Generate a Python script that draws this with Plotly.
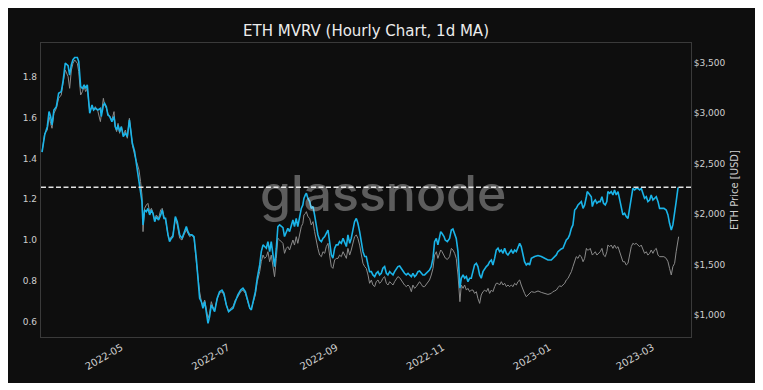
import pandas as pd
import plotly.graph_objects as go

START = "2022-03-16"

days_since_start = [
    0.6, 2.1, 3.6, 4.6, 5.5, 6.3, 7.4, 8.8, 10.1, 11.6,
    12.6, 13.9, 15.5, 16.4, 17.4, 18.3, 19.3, 20.8, 21.6, 22.7,
    23.7, 24.7, 25.6, 26.5, 27.9, 29.2, 30.1, 31.1, 32.6, 34.0,
    34.5, 35.7, 36.4, 37.4, 38.3, 39.3, 40.6, 41.8, 42.5, 43.3,
    44.1, 45.0, 46.0, 47.1, 48.3, 49.4, 50.6, 51.3, 52.3, 53.6,
    55.1, 56.1, 57.0, 57.8, 58.4, 59.3, 60.3, 61.2, 62.2, 63.2,
    64.1, 65.1, 66.0, 67.3, 68.5, 69.4, 70.4, 71.3, 72.7, 73.6,
    74.6, 75.5,
    76.9, 78.0, 79.4, 80.7, 81.8, 83.2, 84.1, 85.1, 86.4, 87.6,
    88.9, 89.9, 90.8, 91.8, 92.7, 93.7, 94.6, 95.6, 96.5, 97.5,
    98.4, 99.4, 100.9, 102.2, 103.6, 104.7, 106.1, 107.4, 108.6, 109.9,
    111.2, 112.7, 114.3, 115.6, 117.0, 118.1, 119.5, 120.4, 121.6, 122.7,
    123.8, 125.2, 126.1, 127.1, 128.0, 129.0, 129.9, 130.9, 131.8, 132.8,
    133.7, 134.7, 135.6, 136.6, 137.5, 138.5, 139.4, 140.4, 141.3, 142.3,
    143.2, 144.2, 145.1, 146.1, 147.0, 148.0, 149.0, 149.9,
    150.5, 151.3, 151.9, 152.8, 153.8, 154.7, 155.7, 156.6, 157.6, 158.5,
    159.5, 160.5, 161.4, 162.4, 163.3, 164.3, 165.2, 166.2, 167.1, 168.1,
    169.0, 170.0, 170.9, 171.9, 172.9, 173.8, 174.8, 175.7, 176.7, 177.6,
    178.6, 179.5, 180.5, 181.4, 182.4, 183.3, 184.3, 185.3, 186.2, 187.2,
    188.1, 189.1, 190.0, 191.0, 191.9, 192.9, 193.8, 194.8, 195.7, 196.7,
    197.7, 198.6, 199.6, 200.5, 201.5, 202.4, 203.4, 204.3, 205.3, 206.2,
    207.2, 208.1, 209.1, 210.1, 211.0, 212.0, 212.9, 213.9, 214.8, 215.8,
    216.7, 217.7, 218.6, 219.6, 220.5, 221.5, 222.4, 223.4,
    224.4, 225.3, 226.3, 227.2, 228.2, 228.8, 229.5, 230.7, 231.4, 232.6,
    233.9, 234.9, 235.8, 236.8, 237.7, 238.7, 239.3, 239.8, 240.6, 241.6,
    242.5, 243.5, 244.4, 245.4, 246.3, 247.3, 248.2, 249.2, 250.1, 251.1,
    252.0, 253.0, 254.0, 254.9, 255.9, 256.8, 257.8, 258.7, 259.7, 260.6,
    261.6, 262.5, 263.5, 264.5, 265.4, 266.4, 267.3, 268.3, 269.2, 270.2,
    271.1, 272.1, 273.0, 274.0, 274.9, 275.9, 276.8, 277.8, 278.8, 279.7,
    280.7, 282.6, 284.5, 286.4, 288.3, 290.2, 292.1, 293.0, 294.0, 295.0,
    295.9, 296.9, 297.8,
    298.8, 299.8, 300.7, 301.7, 302.6, 303.6, 304.5, 305.5, 306.4, 307.4,
    308.3, 309.3, 310.3, 311.2, 312.2, 312.7, 313.5, 314.4, 315.0, 315.6,
    316.5, 317.3, 318.2, 319.2, 320.1, 321.1, 322.0, 323.0, 323.9, 324.5,
    325.5, 326.4, 327.4, 328.3, 329.3, 330.3, 331.2, 332.2, 333.1, 334.1,
    335.0, 336.0, 336.9, 337.9, 338.8, 339.8, 340.7, 341.7, 342.7, 343.6,
    344.6, 345.5, 346.5, 347.4, 348.4, 349.3, 350.3, 351.2, 352.2, 353.2,
    354.1, 355.1, 356.6, 357.9, 358.9, 359.8, 360.8, 361.7, 362.7, 363.6,
    364.6, 365.0,
]

mvrv = [
    1.430, 1.514, 1.555, 1.629, 1.605, 1.564, 1.637, 1.653, 1.719, 1.727,
    1.776, 1.866, 1.854, 1.808, 1.859, 1.883, 1.894, 1.894, 1.875, 1.751,
    1.743, 1.760, 1.743, 1.760, 1.621, 1.661, 1.637, 1.645, 1.637, 1.645,
    1.605, 1.661, 1.670, 1.653, 1.612, 1.605, 1.580, 1.605, 1.555, 1.539,
    1.564, 1.531, 1.555, 1.506, 1.523, 1.506, 1.588, 1.547, 1.474, 1.433,
    1.351, 1.302, 1.253, 1.188, 1.074, 1.147, 1.139, 1.155, 1.123, 1.147,
    1.131, 1.090, 1.114, 1.098, 1.123, 1.147, 1.106, 1.106, 1.025, 0.992,
    1.008, 1.017,
    1.115, 1.090, 1.025, 1.008, 1.033, 1.066, 1.041, 1.025, 1.025, 1.017,
    0.911, 0.813, 0.715, 0.698, 0.666, 0.698, 0.649, 0.592, 0.625, 0.682,
    0.666, 0.649, 0.715, 0.747, 0.755, 0.739, 0.682, 0.649, 0.658, 0.666,
    0.698, 0.731, 0.755, 0.764, 0.747, 0.715, 0.666, 0.658, 0.698, 0.747,
    0.813, 0.878, 0.943, 0.976, 0.968, 0.960, 0.992, 0.943, 0.992, 0.911,
    0.870, 0.960, 1.066, 1.074, 1.066, 1.061, 1.017, 1.041, 1.057, 1.041,
    1.066, 1.098, 1.066, 1.106, 1.066, 1.115, 1.155, 1.172,
    1.204, 1.221, 1.229, 1.204, 1.188, 1.155, 1.164, 1.123, 1.057, 1.025,
    1.000, 0.992, 1.008, 1.017, 1.033, 1.049, 0.992, 0.927, 0.911, 0.960,
    0.976, 0.976, 0.992, 0.984, 1.008, 0.992, 0.968, 1.025, 0.984, 1.008,
    1.057, 1.090, 1.106, 1.082, 1.041, 0.984, 0.943, 0.919, 0.919, 0.878,
    0.845, 0.845, 0.829, 0.821, 0.837, 0.845, 0.829, 0.837, 0.862, 0.870,
    0.837, 0.829, 0.845, 0.837, 0.829, 0.845, 0.858, 0.870, 0.873, 0.862,
    0.845, 0.837, 0.829, 0.837, 0.829, 0.821, 0.837, 0.821, 0.829, 0.845,
    0.848, 0.837, 0.829, 0.829, 0.837, 0.845, 0.853, 0.870,
    0.911, 0.992, 1.008, 0.976, 1.008, 1.041, 1.033, 1.017, 1.000, 0.992,
    1.008, 1.049, 1.054, 1.033, 1.008, 0.943, 0.845, 0.764, 0.813, 0.829,
    0.813, 0.821, 0.796, 0.813, 0.813, 0.845, 0.878, 0.886, 0.870, 0.829,
    0.813, 0.845, 0.862, 0.870, 0.878, 0.894, 0.902, 0.878, 0.911, 0.951,
    0.960, 0.943, 0.951, 0.935, 0.960, 0.935, 0.927, 0.943, 0.951, 0.935,
    0.951, 0.943, 0.968, 0.984, 0.968, 0.935, 0.894, 0.878, 0.886, 0.878,
    0.911, 0.919, 0.924, 0.919, 0.911, 0.902, 0.902, 0.911, 0.919, 0.927,
    0.943, 0.951, 0.956,
    0.960, 0.984, 1.000, 1.008, 1.025, 1.057, 1.074, 1.147, 1.155, 1.172,
    1.180, 1.188, 1.155, 1.172, 1.212, 1.237, 1.229, 1.221, 1.212, 1.164,
    1.188, 1.196, 1.180, 1.188, 1.188, 1.212, 1.180, 1.172, 1.188, 1.237,
    1.229, 1.237, 1.221, 1.245, 1.221, 1.237, 1.204, 1.155, 1.123, 1.131,
    1.115, 1.106, 1.155, 1.212, 1.253, 1.245, 1.253, 1.253, 1.245, 1.253,
    1.221, 1.204, 1.212, 1.188, 1.196, 1.221, 1.196, 1.204, 1.212, 1.188,
    1.155, 1.155, 1.155, 1.147, 1.123, 1.082, 1.049, 1.074, 1.123, 1.188,
    1.253, 1.258,
]

eth_price_usd = [
    2618, 2800, 2833, 2965, 2899, 2850, 2998, 3048, 3147, 3180,
    3296, 3428, 3362, 3246, 3428, 3494, 3527, 3494, 3411, 3180,
    3213, 3262, 3213, 3246, 3015, 3064, 3031, 3064, 3015, 2916,
    2982, 3147, 3081, 3050, 2998, 2965, 2932, 3015, 2866, 2817,
    2899, 2800, 2866, 2784, 2833, 2751, 2949, 2850, 2684, 2585,
    2486, 2437, 2321, 2189, 1826, 2057, 2090, 2106, 2024, 2057,
    2007, 1941, 1991, 1958, 2040, 2057, 1974, 1941, 1793, 1743,
    1776, 1793,
    1958, 1892, 1760, 1743, 1793, 1842, 1809, 1776, 1793, 1760,
    1528, 1363, 1231, 1132, 1099, 1148, 1049, 967, 1016, 1132,
    1082, 1049, 1165, 1214, 1231, 1198, 1099, 1033, 1066, 1082,
    1148, 1181, 1231, 1247, 1214, 1148, 1066, 1066, 1132, 1198,
    1330, 1429, 1528, 1594, 1561, 1578, 1627, 1528, 1594, 1462,
    1380, 1561, 1760, 1743, 1726, 1710, 1611, 1660, 1677, 1644,
    1693, 1743, 1693, 1776, 1710, 1793, 1875, 1908,
    1991, 2005, 2024, 1974, 1958, 1892, 1925, 1826, 1727, 1660,
    1594, 1578, 1627, 1611, 1677, 1710, 1594, 1479, 1462, 1545,
    1561, 1561, 1594, 1578, 1627, 1594, 1561, 1660, 1594, 1644,
    1727, 1776, 1793, 1760, 1693, 1594, 1512, 1479, 1462, 1396,
    1314, 1347, 1297, 1281, 1330, 1347, 1314, 1330, 1363, 1380,
    1314, 1297, 1330, 1314, 1297, 1330, 1363, 1380, 1370, 1347,
    1314, 1297, 1281, 1297, 1281, 1231, 1297, 1264, 1281, 1314,
    1330, 1304, 1281, 1281, 1304, 1323, 1347, 1396,
    1462, 1594, 1627, 1561, 1627, 1644, 1630, 1590, 1565, 1550,
    1578, 1660, 1644, 1611, 1561, 1396, 1165, 1132, 1297, 1264,
    1297, 1247, 1264, 1231, 1247, 1247, 1214, 1231, 1165, 1115,
    1198, 1231, 1247, 1231, 1264, 1214, 1247, 1231, 1281, 1314,
    1314, 1297, 1330, 1297, 1314, 1281, 1297, 1281, 1297, 1281,
    1314, 1297, 1330, 1347, 1297, 1247, 1214, 1181, 1198, 1214,
    1231, 1224, 1238, 1224, 1214, 1204, 1214, 1231, 1238, 1247,
    1270, 1290, 1281,
    1297, 1314, 1347, 1363, 1396, 1429, 1479, 1545, 1578, 1561,
    1594, 1578, 1528, 1561, 1660, 1644, 1644, 1660, 1627, 1594,
    1611, 1627, 1594, 1611, 1627, 1660, 1594, 1578, 1627, 1693,
    1677, 1693, 1660, 1693, 1660, 1677, 1627, 1561, 1528, 1528,
    1495, 1512, 1594, 1677, 1710, 1700, 1710, 1693, 1677, 1693,
    1644, 1611, 1627, 1594, 1611, 1644, 1611, 1644, 1660, 1594,
    1578, 1578, 1578, 1561, 1528, 1462, 1396, 1479, 1512, 1627,
    1760, 1776,
]

CURRENT_MVRV = 1.258

x_tick_dates = ["2022-05-01", "2022-07-01", "2022-09-01", "2022-11-01", "2023-01-01", "2023-03-01"]
x_tick_labels = ["2022-05", "2022-07", "2022-09", "2022-11", "2023-01", "2023-03"]
mvrv_ticks = [0.6, 0.8, 1.0, 1.2, 1.4, 1.6, 1.8]
price_ticks = [1000, 1500, 2000, 2500, 3000, 3500]
price_tick_labels = ["$1,000", "$1,500", "$2,000", "$2,500", "$3,000", "$3,500"]

TITLE = "ETH MVRV (Hourly Chart, 1d MA)"
PRICE_AXIS_TITLE = "ETH Price [USD]"
WATERMARK = "glassnode"

BG = "#0e0e0e"
TICK_COLOR = "#cfcfcf"
FONT = "DejaVu Sans"

W, H = 750, 375

dates = pd.Timestamp(START) + pd.to_timedelta(days_since_start, unit="D")

fig = go.Figure()
fig.add_trace(go.Scatter(
    x=dates, y=eth_price_usd, yaxis="y", mode="lines",
    line=dict(color="#8a8a8a", width=1), name="ETH Price", hoverinfo="skip",
))
fig.add_trace(go.Scatter(
    x=dates, y=mvrv, yaxis="y2", mode="lines",
    line=dict(color="#1ab4e8", width=1.6), name="MVRV", hoverinfo="skip",
))

fig.update_layout(
    width=W, height=H, autosize=False,
    margin=dict(l=33, r=67, t=35, b=46, pad=0),
    paper_bgcolor=BG, plot_bgcolor=BG,
    showlegend=False,
    font=dict(family=FONT, color=TICK_COLOR, size=9),
    title=dict(text=TITLE, x=0.5, xref="paper", xanchor="center",
               y=1 - 23 / H, yref="container", yanchor="middle",
               font=dict(family=FONT, size=15, color="#ececec")),
    xaxis=dict(
        range=[START, "2023-03-23 02:00"], tickvals=x_tick_dates, ticktext=x_tick_labels,
        tickangle=-30, showgrid=False, zeroline=False, showline=True, mirror=True,
        linecolor="#3a3a3a", linewidth=1, ticks="", tickfont=dict(size=10, color=TICK_COLOR),
    ),
    yaxis=dict(
        side="right", range=[782, 3695], tickvals=price_ticks, ticktext=price_tick_labels,
        showgrid=False, zeroline=False, showline=True, mirror=True,
        linecolor="#3a3a3a", linewidth=1, ticks="", tickfont=dict(size=9, color=TICK_COLOR),
        title=dict(text=PRICE_AXIS_TITLE, font=dict(size=10, color=TICK_COLOR), standoff=6),
    ),
    yaxis2=dict(
        overlaying="y", side="left", range=[0.525, 1.965], tickvals=mvrv_ticks,
        tickformat=".1f", showgrid=False, zeroline=False, showline=False, ticks="",
        ticklabelstandoff=3, tickfont=dict(size=9, color=TICK_COLOR),
    ),
)

# current MVRV reference line
fig.add_shape(type="line", xref="paper", yref="y2", x0=0, x1=1,
              y0=CURRENT_MVRV, y1=CURRENT_MVRV,
              line=dict(color="#e2e2e2", width=1.5, dash="5px,2.5px"))

fig.add_annotation(text=WATERMARK, xref="paper", yref="paper", x=0.526, y=0.49,
                   xanchor="center", yanchor="middle", showarrow=False,
                   font=dict(family="Inter", size=50, weight=500,
                             color="rgba(255,255,255,0.33)"))

fig.write_html("out.html")
